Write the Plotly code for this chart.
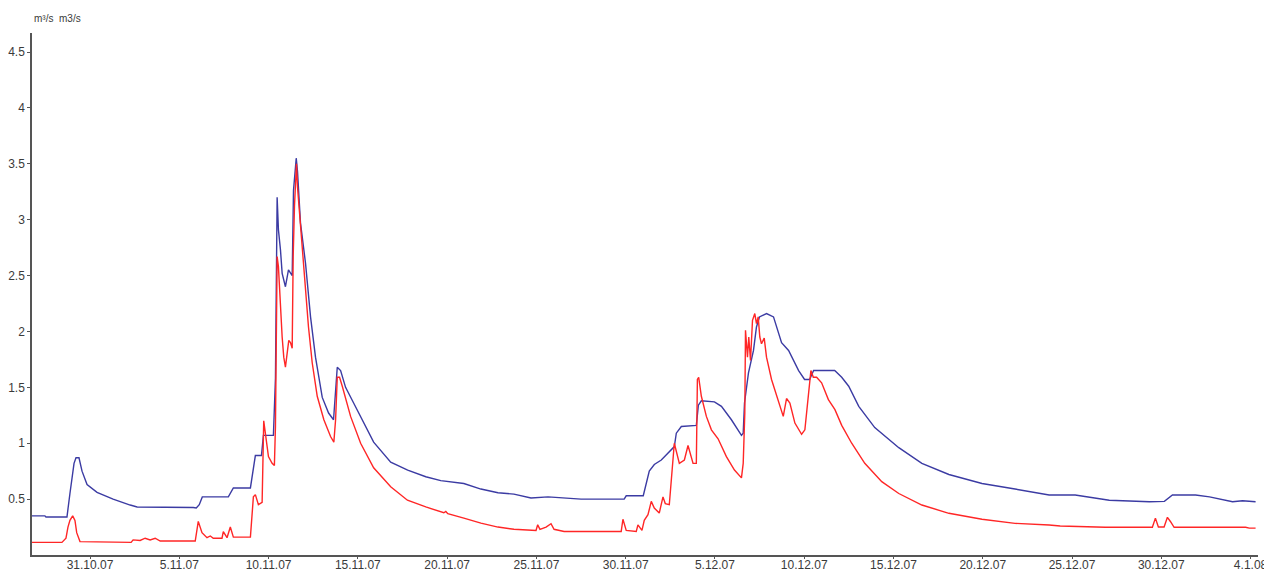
import plotly.graph_objects as go

# ---- data (time, discharge m3/s) ----
blue_time = [
    "2007-10-27 18:00", "2007-10-28 11:20", "2007-10-28 12:45", "2007-10-29 17:00", "2007-10-29 21:00",
    "2007-10-30 02:30", "2007-10-30 05:10", "2007-10-30 09:10", "2007-10-30 13:15", "2007-10-30 20:00",
    "2007-10-31 09:25", "2007-11-01 07:00", "2007-11-02 06:00", "2007-11-02 15:20", "2007-11-05 18:45",
    "2007-11-05 22:50", "2007-11-06 02:50", "2007-11-06 06:55", "2007-11-07 17:55", "2007-11-08 00:40",
    "2007-11-08 23:35", "2007-11-09 06:15", "2007-11-09 14:25", "2007-11-09 17:05", "2007-11-10 06:30",
    "2007-11-10 09:15", "2007-11-10 11:30", "2007-11-10 13:15", "2007-11-10 16:00", "2007-11-10 18:15",
    "2007-11-10 22:40", "2007-11-11 02:45", "2007-11-11 07:45", "2007-11-11 09:30", "2007-11-11 13:10",
    "2007-11-11 14:55", "2007-11-11 18:55", "2007-11-12 01:40", "2007-11-12 08:25", "2007-11-12 15:05",
    "2007-11-13 00:10", "2007-11-13 08:40", "2007-11-13 15:20", "2007-11-13 20:20", "2007-11-14 00:50",
    "2007-11-14 07:30", "2007-11-14 18:20", "2007-11-15 07:45", "2007-11-15 21:15", "2007-11-16 20:10",
    "2007-11-17 19:00", "2007-11-18 19:20", "2007-11-19 15:30", "2007-11-20 22:30", "2007-11-21 21:25",
    "2007-11-22 20:20", "2007-11-23 17:50", "2007-11-24 16:45", "2007-11-25 15:40", "2007-11-27 12:05",
    "2007-11-29 22:00", "2007-11-30 00:45", "2007-11-30 23:40", "2007-12-01 07:45", "2007-12-01 14:30",
    "2007-12-01 23:55", "2007-12-02 09:20", "2007-12-02 17:25", "2007-12-02 20:05", "2007-12-03 02:50",
    "2007-12-03 23:00", "2007-12-04 01:45", "2007-12-04 05:45", "2007-12-04 23:20", "2007-12-05 08:45",
    "2007-12-05 22:10", "2007-12-06 11:40", "2007-12-06 14:00", "2007-12-06 15:45", "2007-12-06 21:05",
    "2007-12-07 03:50", "2007-12-07 07:50", "2007-12-07 11:55", "2007-12-07 21:20", "2007-12-08 06:45",
    "2007-12-08 17:35", "2007-12-09 03:00", "2007-12-09 16:30", "2007-12-10 00:30", "2007-12-10 07:15",
    "2007-12-10 12:40", "2007-12-11 17:00", "2007-12-12 02:25", "2007-12-12 11:50", "2007-12-13 01:20",
    "2007-12-13 22:50", "2007-12-15 07:10", "2007-12-16 14:10", "2007-12-18 02:30", "2007-12-19 23:00",
    "2007-12-21 19:25", "2007-12-23 17:15", "2007-12-25 04:15", "2007-12-27 02:05", "2007-12-29 08:00",
    "2007-12-30 04:10", "2007-12-30 15:00", "2007-12-31 22:00", "2008-01-01 16:50", "2008-01-02 23:45",
    "2008-01-03 13:15", "2008-01-04 06:45",
]
blue_q = [
    0.35, 0.35, 0.34, 0.34, 0.55,
    0.82, 0.87, 0.87, 0.75, 0.63,
    0.56, 0.50, 0.447, 0.43, 0.425,
    0.42, 0.45, 0.52, 0.52, 0.60,
    0.60, 0.89, 0.89, 1.07, 1.07,
    1.58, 3.20, 2.91, 2.73, 2.52,
    2.40, 2.55, 2.50, 3.26, 3.55,
    3.43, 2.97, 2.61, 2.13, 1.77,
    1.41, 1.27, 1.21, 1.68, 1.65,
    1.50, 1.36, 1.18, 1.01, 0.83,
    0.76, 0.70, 0.665, 0.64, 0.59,
    0.557, 0.545, 0.51, 0.52, 0.50,
    0.50, 0.53, 0.53, 0.75, 0.81,
    0.85, 0.91, 0.97, 1.09, 1.15,
    1.16, 1.34, 1.38, 1.37, 1.33,
    1.21, 1.07, 1.09, 1.36, 1.63,
    1.83, 2.04, 2.13, 2.16, 2.13,
    1.90, 1.83, 1.65, 1.57, 1.57,
    1.65, 1.65, 1.59, 1.51, 1.33,
    1.14, 0.96, 0.82, 0.72, 0.64,
    0.59, 0.537, 0.537, 0.49, 0.477,
    0.48, 0.537, 0.537, 0.52, 0.477,
    0.486, 0.477,
]

red_time = [
    "2007-10-27 18:00", "2007-10-29 10:15", "2007-10-29 15:40", "2007-10-29 18:20", "2007-10-29 21:00",
    "2007-10-30 00:40", "2007-10-30 03:45", "2007-10-30 06:05", "2007-10-30 10:30", "2007-11-02 07:15",
    "2007-11-02 09:55", "2007-11-02 19:20", "2007-11-03 02:05", "2007-11-03 08:50", "2007-11-03 15:35",
    "2007-11-03 22:20", "2007-11-05 21:25", "2007-11-06 00:10", "2007-11-06 01:30", "2007-11-06 06:30",
    "2007-11-06 13:15", "2007-11-06 17:40", "2007-11-06 21:40", "2007-11-07 09:25", "2007-11-07 11:10",
    "2007-11-07 16:10", "2007-11-07 20:35", "2007-11-08 00:40", "2007-11-08 20:50", "2007-11-08 23:35",
    "2007-11-09 03:35", "2007-11-09 06:15", "2007-11-09 10:20", "2007-11-09 15:20", "2007-11-09 17:30",
    "2007-11-09 19:45", "2007-11-09 23:50", "2007-11-10 04:45", "2007-11-10 07:50", "2007-11-10 09:15",
    "2007-11-10 11:30", "2007-11-10 13:15", "2007-11-10 16:00", "2007-11-10 18:15", "2007-11-10 20:25",
    "2007-11-10 22:40", "2007-11-11 03:10", "2007-11-11 05:25", "2007-11-11 07:45", "2007-11-11 09:05",
    "2007-11-11 10:50", "2007-11-11 13:30", "2007-11-11 14:55", "2007-11-11 17:35", "2007-11-11 21:15",
    "2007-11-12 01:40", "2007-11-12 05:40", "2007-11-12 10:40", "2007-11-12 17:25", "2007-11-13 02:20",
    "2007-11-13 11:20", "2007-11-13 15:45", "2007-11-13 18:05", "2007-11-13 20:20", "2007-11-13 23:25",
    "2007-11-14 03:05", "2007-11-14 14:15", "2007-11-15 03:45", "2007-11-15 21:15", "2007-11-16 20:10",
    "2007-11-17 18:40", "2007-11-18 19:20", "2007-11-19 19:35", "2007-11-19 22:15", "2007-11-20 00:55",
    "2007-11-20 22:30", "2007-11-21 21:25", "2007-11-22 20:20", "2007-11-23 17:50", "2007-11-24 23:30",
    "2007-11-25 01:45", "2007-11-25 04:50", "2007-11-25 13:00", "2007-11-25 19:40", "2007-11-25 23:45",
    "2007-11-26 13:15", "2007-11-29 18:00", "2007-11-29 20:20", "2007-11-30 00:45", "2007-11-30 14:15",
    "2007-11-30 16:30", "2007-11-30 21:55", "2007-12-01 01:00", "2007-12-01 06:00", "2007-12-01 10:25",
    "2007-12-01 14:30", "2007-12-01 21:10", "2007-12-02 02:10", "2007-12-02 05:15", "2007-12-02 10:40",
    "2007-12-02 17:25", "2007-12-03 00:10", "2007-12-03 06:55", "2007-12-03 11:50", "2007-12-03 18:35",
    "2007-12-03 23:00", "2007-12-04 00:25", "2007-12-04 02:10", "2007-12-04 05:45", "2007-12-04 12:30",
    "2007-12-04 19:15", "2007-12-05 04:15", "2007-12-05 15:25", "2007-12-06 02:15", "2007-12-06 11:40",
    "2007-12-06 14:00", "2007-12-06 16:10", "2007-12-06 17:05", "2007-12-06 19:45", "2007-12-06 21:30",
    "2007-12-06 23:50", "2007-12-07 02:30", "2007-12-07 05:35", "2007-12-07 07:50", "2007-12-07 10:10",
    "2007-12-07 12:20", "2007-12-07 14:35", "2007-12-07 18:15", "2007-12-07 21:20", "2007-12-08 04:05",
    "2007-12-08 10:50", "2007-12-08 19:50", "2007-12-09 00:15", "2007-12-09 04:45", "2007-12-09 11:30",
    "2007-12-09 20:30", "2007-12-10 00:55", "2007-12-10 05:30", "2007-12-10 09:00", "2007-12-10 12:15",
    "2007-12-10 16:40", "2007-12-10 23:25", "2007-12-11 08:30", "2007-12-11 17:20", "2007-12-12 02:25",
    "2007-12-12 15:50", "2007-12-13 09:25", "2007-12-14 08:15", "2007-12-15 07:10", "2007-12-16 14:10",
    "2007-12-18 02:30", "2007-12-19 23:00", "2007-12-21 19:25", "2007-12-23 17:15", "2007-12-24 08:05",
    "2007-12-26 20:40", "2007-12-29 12:00", "2007-12-29 16:05", "2007-12-29 20:05", "2007-12-30 03:45",
    "2007-12-30 08:15", "2007-12-30 12:15", "2007-12-30 17:15", "2008-01-03 17:20", "2008-01-03 22:20",
    "2008-01-04 06:45",
]
red_q = [
    0.113, 0.113, 0.15, 0.25, 0.31,
    0.35, 0.31, 0.20, 0.12, 0.113,
    0.135, 0.13, 0.15, 0.135, 0.15,
    0.125, 0.125, 0.28, 0.30, 0.20,
    0.155, 0.17, 0.15, 0.15, 0.21,
    0.155, 0.25, 0.16, 0.155, 0.16,
    0.52, 0.54, 0.45, 0.47, 1.20,
    1.09, 0.88, 0.82, 0.80, 1.15,
    2.67, 2.58, 2.16, 1.95, 1.77,
    1.68, 1.92, 1.90, 1.85, 2.67,
    3.12, 3.50, 3.29, 3.06, 2.70,
    2.37, 2.04, 1.72, 1.42, 1.21,
    1.06, 1.01, 1.21, 1.59, 1.59,
    1.51, 1.24, 1.00, 0.78, 0.61,
    0.49, 0.43, 0.378, 0.39, 0.37,
    0.33, 0.285, 0.25, 0.23, 0.22,
    0.27, 0.23, 0.25, 0.28, 0.23,
    0.21, 0.21, 0.32, 0.22, 0.21,
    0.27, 0.22, 0.31, 0.36, 0.48,
    0.42, 0.375, 0.52, 0.46, 0.45,
    1.00, 0.82, 0.85, 0.98, 0.82,
    0.82, 1.57, 1.59, 1.42, 1.24,
    1.12, 1.04, 0.88, 0.76, 0.69,
    0.82, 1.27, 2.01, 1.77, 1.95,
    1.74, 2.10, 2.16, 2.07, 2.13,
    1.95, 1.89, 1.94, 1.77, 1.57,
    1.42, 1.24, 1.40, 1.36, 1.18,
    1.08, 1.12, 1.39, 1.65, 1.59,
    1.59, 1.54, 1.39, 1.30, 1.16,
    1.00, 0.82, 0.656, 0.55, 0.447,
    0.373, 0.32, 0.283, 0.268, 0.26,
    0.248, 0.248, 0.33, 0.25, 0.25,
    0.337, 0.30, 0.248, 0.248, 0.24,
    0.24,
]

x_tickvals = ["2007-10-31", "2007-11-05", "2007-11-10", "2007-11-15", "2007-11-20", "2007-11-25",
              "2007-11-30", "2007-12-05", "2007-12-10", "2007-12-15", "2007-12-20", "2007-12-25",
              "2007-12-30", "2008-01-04"]
x_ticktext = ["31.10.07", "5.11.07", "10.11.07", "15.11.07", "20.11.07", "25.11.07", "30.11.07",
              "5.12.07", "10.12.07", "15.12.07", "20.12.07", "25.12.07", "30.12.07", "4.1.08"]
y_tickvals = [0.5, 1, 1.5, 2, 2.5, 3, 3.5, 4, 4.5]
y_ticktext = ["0.5", "1", "1.5", "2", "2.5", "3", "3.5", "4", "4.5"]
unit_label = "m³/s  m3/s"

BLUE = "#3b3ba3"
RED = "#ff2626"
AXIS = "#555555"
TXT = "#3a3a3a"

fig = go.Figure()
fig.add_trace(go.Scatter(x=blue_time, y=blue_q, mode="lines", name="blue",
                         line=dict(color=BLUE, width=1.4), showlegend=False))
fig.add_trace(go.Scatter(x=red_time, y=red_q, mode="lines", name="red",
                         line=dict(color=RED, width=1.4), showlegend=False))

# the page body has an 8px margin, so the figure is sized/offset to compensate
fig.update_layout(
    width=1264, height=563,
    margin=dict(l=24, r=14, t=25, b=16),
    paper_bgcolor="white", plot_bgcolor="white",
    font=dict(family="Liberation Sans, Arial, sans-serif", size=12, color=TXT),
    xaxis=dict(
        type="date", automargin=False,
        range=["2007-10-27 18:00", "2008-01-04 10:00"],
        tickvals=x_tickvals, ticktext=x_ticktext,
        showgrid=False, zeroline=False,
        showline=True, linecolor=AXIS, linewidth=1.5,
        ticks="outside", ticklen=2, tickcolor=AXIS,
        ticklabelstandoff=-4,
        tickfont=dict(size=12, color=TXT),
    ),
    yaxis=dict(
        automargin=False,
        range=[0, 4.67],
        tickvals=y_tickvals, ticktext=y_ticktext,
        showgrid=False, zeroline=False,
        showline=True, linecolor=AXIS, linewidth=1.5,
        ticks="outside", ticklen=3, tickcolor=AXIS,
        ticklabelstandoff=0,
        tickfont=dict(size=12, color=TXT),
    ),
    annotations=[dict(
        text=unit_label, xref="paper", yref="paper", x=0, y=1,
        xanchor="left", yanchor="bottom", yshift=7, showarrow=False,
        font=dict(size=10, color=TXT),
    )],
)

fig.write_html("out.html")
